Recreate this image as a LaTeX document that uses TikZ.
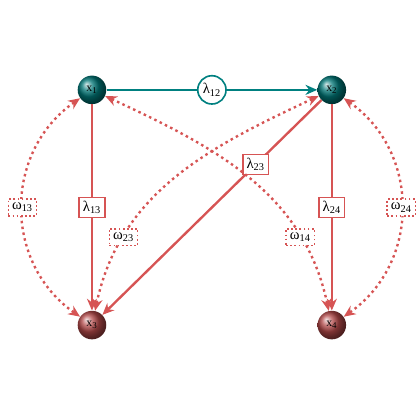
\documentclass[tikz,border=0pt]{standalone}
\usepackage{fontspec}
\setmainfont{Liberation Serif}
\usetikzlibrary{arrows.meta,shapes.geometric}
\definecolor{edgered}{RGB}{214,84,84}
\definecolor{ballred}{RGB}{178,72,72}
\definecolor{ballteal}{RGB}{0,118,118}
\definecolor{lineteal}{RGB}{0,128,128}
\begin{document}
\begin{tikzpicture}[
                var/.style={circle,minimum size=6.8mm,inner sep=0pt,font=\footnotesize,text=black},
                topvar/.style={var,ball color=ballteal},
                botvar/.style={var,ball color=ballred},
                path/.style={edgered,line width=1.6pt,-{Stealth[length=2.8mm,width=2.4mm]}},
                cov/.style={edgered,line width=1.6pt,dash pattern=on 1.7pt off 2.3pt,{Stealth[length=2.8mm,width=2.4mm]}-{Stealth[length=2.8mm,width=2.4mm]}},
                lab/.style={rectangle,draw=edgered,line width=1.1pt,fill=white,text=black,inner sep=2.5pt,solid},
                covlab/.style={rectangle,draw=edgered,line width=1.1pt,fill=white,text=black,inner sep=2.5pt,dash pattern=on 1.2pt off 1.6pt}
            ]
            \useasboundingbox (0,0) rectangle (10,10);

            % variables
            \node[topvar] (x1) at (2.19,7.86) {x\textsubscript{1}};
            \node[topvar] (x2) at (7.90,7.86) {x\textsubscript{2}};
            \node[botvar] (x3) at (2.19,2.26) {x\textsubscript{3}};
            \node[botvar] (x4) at (7.90,2.26) {x\textsubscript{4}};

            % paths
            \draw[path,lineteal] (x1) -- node[circle,draw=lineteal,line width=1.1pt,fill=white,text=black,inner sep=1.5pt] {λ\textsubscript{12}} (x2);
            \draw[path] (x1) -- node[lab] {λ\textsubscript{13}} (x3);
            \draw[path] (x2) -- node[lab] {λ\textsubscript{24}} (x4);
            \draw[path] (x2) -- node[lab,pos=0.3] {λ\textsubscript{23}} (x3);

            % covariances
            \draw[cov] (x1) to[out=215,in=145,looseness=1.1] node[covlab] {ω\textsubscript{13}} (x3);
            \draw[cov] (x2) to[out=-35,in=35,looseness=1.1] node[covlab] {ω\textsubscript{24}} (x4);
            \draw[cov] (x2) to[out=205,in=78] node[covlab,pos=0.76] {ω\textsubscript{23}} (x3);
            \draw[cov] (x1) to[out=-25,in=102] node[covlab,pos=0.76] {ω\textsubscript{14}} (x4);

        \end{tikzpicture}
\end{document}
